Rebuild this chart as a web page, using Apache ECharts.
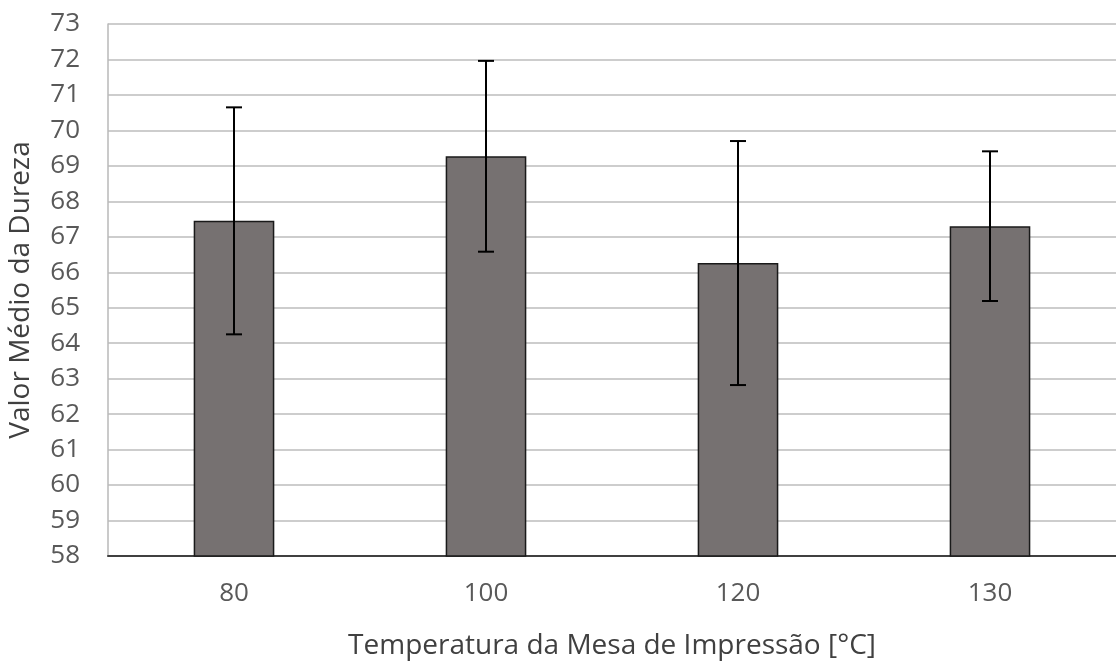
<!DOCTYPE html>
<html>
<head>
<meta charset="utf-8">
<script src="https://cdn.jsdelivr.net/npm/echarts@6/dist/echarts.min.js"></script>
<style>
  html, body { margin: 0; padding: 0; background: #ffffff; }
  #chart { width: 1116px; height: 662px; }
</style>
</head>
<body>
<div id="chart"></div>
<script>
// Bed temperature categories and mean hardness with standard deviation
const categories = ['80', '100', '120', '130'];
const meanHardness = [67.45, 69.27, 66.26, 67.30];
const stdDev = [3.2, 2.69, 3.44, 2.11];
const yTicks = { min: 58, max: 73, interval: 1 };

const errorData = categories.map((c, i) => [i, meanHardness[i] - stdDev[i], meanHardness[i] + stdDev[i]]);

const labelColor = '#595959';
const titleColor = '#404040';
const fontFamily = '"Open Sans", "Noto Sans", sans-serif';

const chart = echarts.init(document.getElementById('chart'));
chart.setOption({
  animation: false,
  backgroundColor: '#ffffff',
  grid: { left: 108, right: 0, top: 24, bottom: 106, outerBoundsMode: 'none' },
  xAxis: {
    type: 'category',
    data: categories,
    name: 'Temperatura da Mesa de Impressão [°C]',
    nameLocation: 'middle',
    nameGap: 76,
    nameTextStyle: { color: titleColor, fontSize: 28, fontFamily },
    axisLine: { lineStyle: { color: '#404040', width: 2 } },
    axisTick: { show: false },
    axisLabel: { color: labelColor, fontSize: 26, margin: 25, fontFamily }
  },
  yAxis: {
    type: 'value',
    min: yTicks.min,
    max: yTicks.max,
    interval: yTicks.interval,
    name: 'Valor Médio da Dureza',
    nameLocation: 'middle',
    nameGap: 73,
    nameTextStyle: { color: titleColor, fontSize: 28, fontFamily },
    axisLine: { show: true, lineStyle: { color: '#b8b8b8', width: 1.5 } },
    axisTick: { show: false },
    axisLabel: { color: labelColor, fontSize: 26, margin: 28, fontFamily },
    splitLine: { lineStyle: { color: '#bdbdbd', width: 1.5 } }
  },
  series: [
    {
      type: 'bar',
      data: meanHardness,
      barWidth: '32%',
      itemStyle: { color: '#767171', borderColor: '#1a1a1a', borderWidth: 1.5 }
    },
    {
      type: 'custom',
      data: errorData,
      z: 10,
      renderItem: function (params, api) {
        const x = api.value(0);
        const low = api.coord([x, api.value(1)]);
        const high = api.coord([x, api.value(2)]);
        const cap = 8;
        const style = { stroke: '#000000', lineWidth: 2 };
        return {
          type: 'group',
          children: [
            { type: 'line', shape: { x1: high[0], y1: high[1], x2: low[0], y2: low[1] }, style },
            { type: 'line', shape: { x1: high[0] - cap, y1: high[1], x2: high[0] + cap, y2: high[1] }, style },
            { type: 'line', shape: { x1: low[0] - cap, y1: low[1], x2: low[0] + cap, y2: low[1] }, style }
          ]
        };
      }
    }
  ]
});
</script>
</body>
</html>
